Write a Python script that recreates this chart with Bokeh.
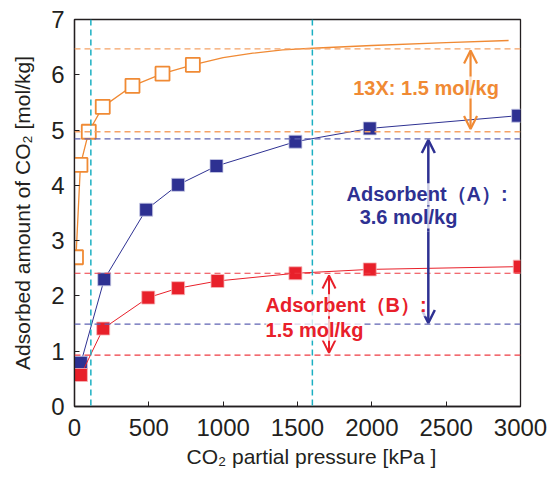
from bokeh.plotting import figure
from bokeh.models import Range1d, Span, Arrow, OpenHead, Label, FixedTicker, Title
from bokeh.embed import file_html
from bokeh.resources import INLINE

# ---- data ----
x_13x = [10, 40, 96, 190, 390, 592, 796]
y_13x = [2.70, 4.37, 4.97, 5.42, 5.80, 6.02, 6.18]
x_13x_fit = [796, 1000, 1200, 1400, 1600, 2000, 2500, 2920]
y_13x_fit = [6.18, 6.31, 6.39, 6.45, 6.48, 6.53, 6.58, 6.62]

x_a = [43, 200, 482, 697, 955, 1486, 1986, 2984]
y_a = [0.79, 2.30, 3.56, 4.01, 4.35, 4.79, 5.03, 5.26]

x_b = [43, 193, 496, 697, 962, 1486, 1986, 2995]
y_b = [0.57, 1.41, 1.97, 2.14, 2.27, 2.41, 2.48, 2.53]

levels_13x = [6.47, 4.97]
levels_a = [4.84, 1.49]
levels_b = [2.41, 0.93]
pressures_v = [110, 1600]

x_ticks = [0, 500, 1000, 1500, 2000, 2500, 3000]
y_ticks = [0, 1, 2, 3, 4, 5, 6, 7]

arrow_x = {"13x": 2664, "a": 2380, "b": 1712}
arrow_y = {"13x": (6.44, 5.02), "a": (4.82, 1.51), "b": (2.37, 0.97)}

labels = [
    ("13X: 1.5 mol/kg", 1875, 5.77, "#F08A34"),
    ("Adsorbent（A）:", 1830, 3.84, "#2E3192"),
    ("3.6 mol/kg", 1918, 3.42, "#2E3192"),
    ("Adsorbent（B）:", 1285, 1.83, "#E8202A"),
    ("1.5 mol/kg", 1285, 1.39, "#E8202A"),
]
x_title = "CO₂ partial pressure [kPa ]"
y_title = "Adsorbed amount of CO₂ [mol/kg]"

ORANGE = "#F08A34"
BLUE = "#2E3192"
RED = "#E8202A"
CYAN = "#1BAFC2"
INK = "#231F20"

p = figure(width=550, height=478, output_backend="svg", toolbar_location=None,
           x_range=Range1d(0, 3000), y_range=Range1d(0, 7),
           min_border_left=74, min_border_right=30, min_border_top=19,
           min_border_bottom=72)
p.grid.visible = False
p.outline_line_color = INK
p.outline_line_width = 1.3
p.background_fill_color = "white"
p.border_fill_color = "white"

for ax in (p.xaxis[0], p.yaxis[0]):
    ax.axis_line_color = INK
    ax.axis_line_width = 1.3
    ax.major_tick_in = 5
    ax.major_tick_out = 0
    ax.major_tick_line_color = INK
    ax.minor_tick_line_color = None
    ax.major_label_text_font = "Liberation Sans"
    ax.major_label_text_font_size = "24px"
    ax.major_label_text_color = INK
    ax.axis_label_text_font = "Liberation Sans"
    ax.axis_label_text_font_style = "normal"
    ax.axis_label_text_font_size = "21px"
    ax.axis_label_text_color = INK

p.xaxis.ticker = FixedTicker(ticks=x_ticks)
p.yaxis.ticker = FixedTicker(ticks=y_ticks)
p.xaxis.major_label_standoff = 12
p.yaxis.major_label_standoff = 10
p.yaxis.axis_label = y_title
p.yaxis.axis_label_standoff = 14

p.add_layout(Title(text=x_title, align="left", offset=112, text_font="Liberation Sans",
                   text_font_style="normal", text_font_size="21px", text_color=INK,
                   standoff=9), "below")

# reference lines
for v in pressures_v:
    p.add_layout(Span(location=v, dimension="height", line_color=CYAN,
                      line_width=1.5, line_dash="6 4"))
for v in levels_13x:
    p.add_layout(Span(location=v, dimension="width", line_color="#F5A266",
                      line_width=1.3, line_dash="6 4"))
for v in levels_a:
    p.add_layout(Span(location=v, dimension="width", line_color="#5F63B3",
                      line_width=1.3, line_dash="6 4"))
for v in levels_b:
    p.add_layout(Span(location=v, dimension="width", line_color="#EE3A42",
                      line_width=1.2, line_dash="6 4"))

# series
p.line(x_13x_fit, y_13x_fit, line_color=ORANGE, line_width=1.3)
p.line(x_13x, y_13x, line_color=ORANGE, line_width=1.3)
p.scatter(x_13x, y_13x, marker="square", size=14, fill_color="white",
          line_color=ORANGE, line_width=1.8)

p.line(x_a, y_a, line_color=BLUE, line_width=1.0)
p.scatter(x_a, y_a, marker="square", size=13, fill_color=BLUE,
          line_color="#C9CBE6", line_width=0.8)

p.line(x_b, y_b, line_color=RED, line_width=1.0)
p.scatter(x_b, y_b, marker="square", size=13, fill_color=RED,
          line_color="#F6B5B8", line_width=0.8)

# arrows
for key, col, w in (("13x", ORANGE, 2.2), ("a", BLUE, 2.5), ("b", RED, 2.0)):
    y0, y1 = arrow_y[key]
    p.add_layout(Arrow(x_start=arrow_x[key], y_start=(y0 + y1) / 2,
                       x_end=arrow_x[key], y_end=y0, line_color=col, line_width=w,
                       end=OpenHead(line_color=col, line_width=w, size=13)))
    p.add_layout(Arrow(x_start=arrow_x[key], y_start=(y0 + y1) / 2,
                       x_end=arrow_x[key], y_end=y1, line_color=col, line_width=w,
                       end=OpenHead(line_color=col, line_width=w, size=13)))

for txt, x, y, col in labels:
    p.add_layout(Label(x=x, y=y, text=txt, text_color=col, text_font="Liberation Sans",
                       text_font_style="bold", text_font_size="20px",
                       text_baseline="middle", text_align="left",
                       background_fill_color="white", background_fill_alpha=0.75))

open("out.html", "w").write(file_html(p, INLINE))
